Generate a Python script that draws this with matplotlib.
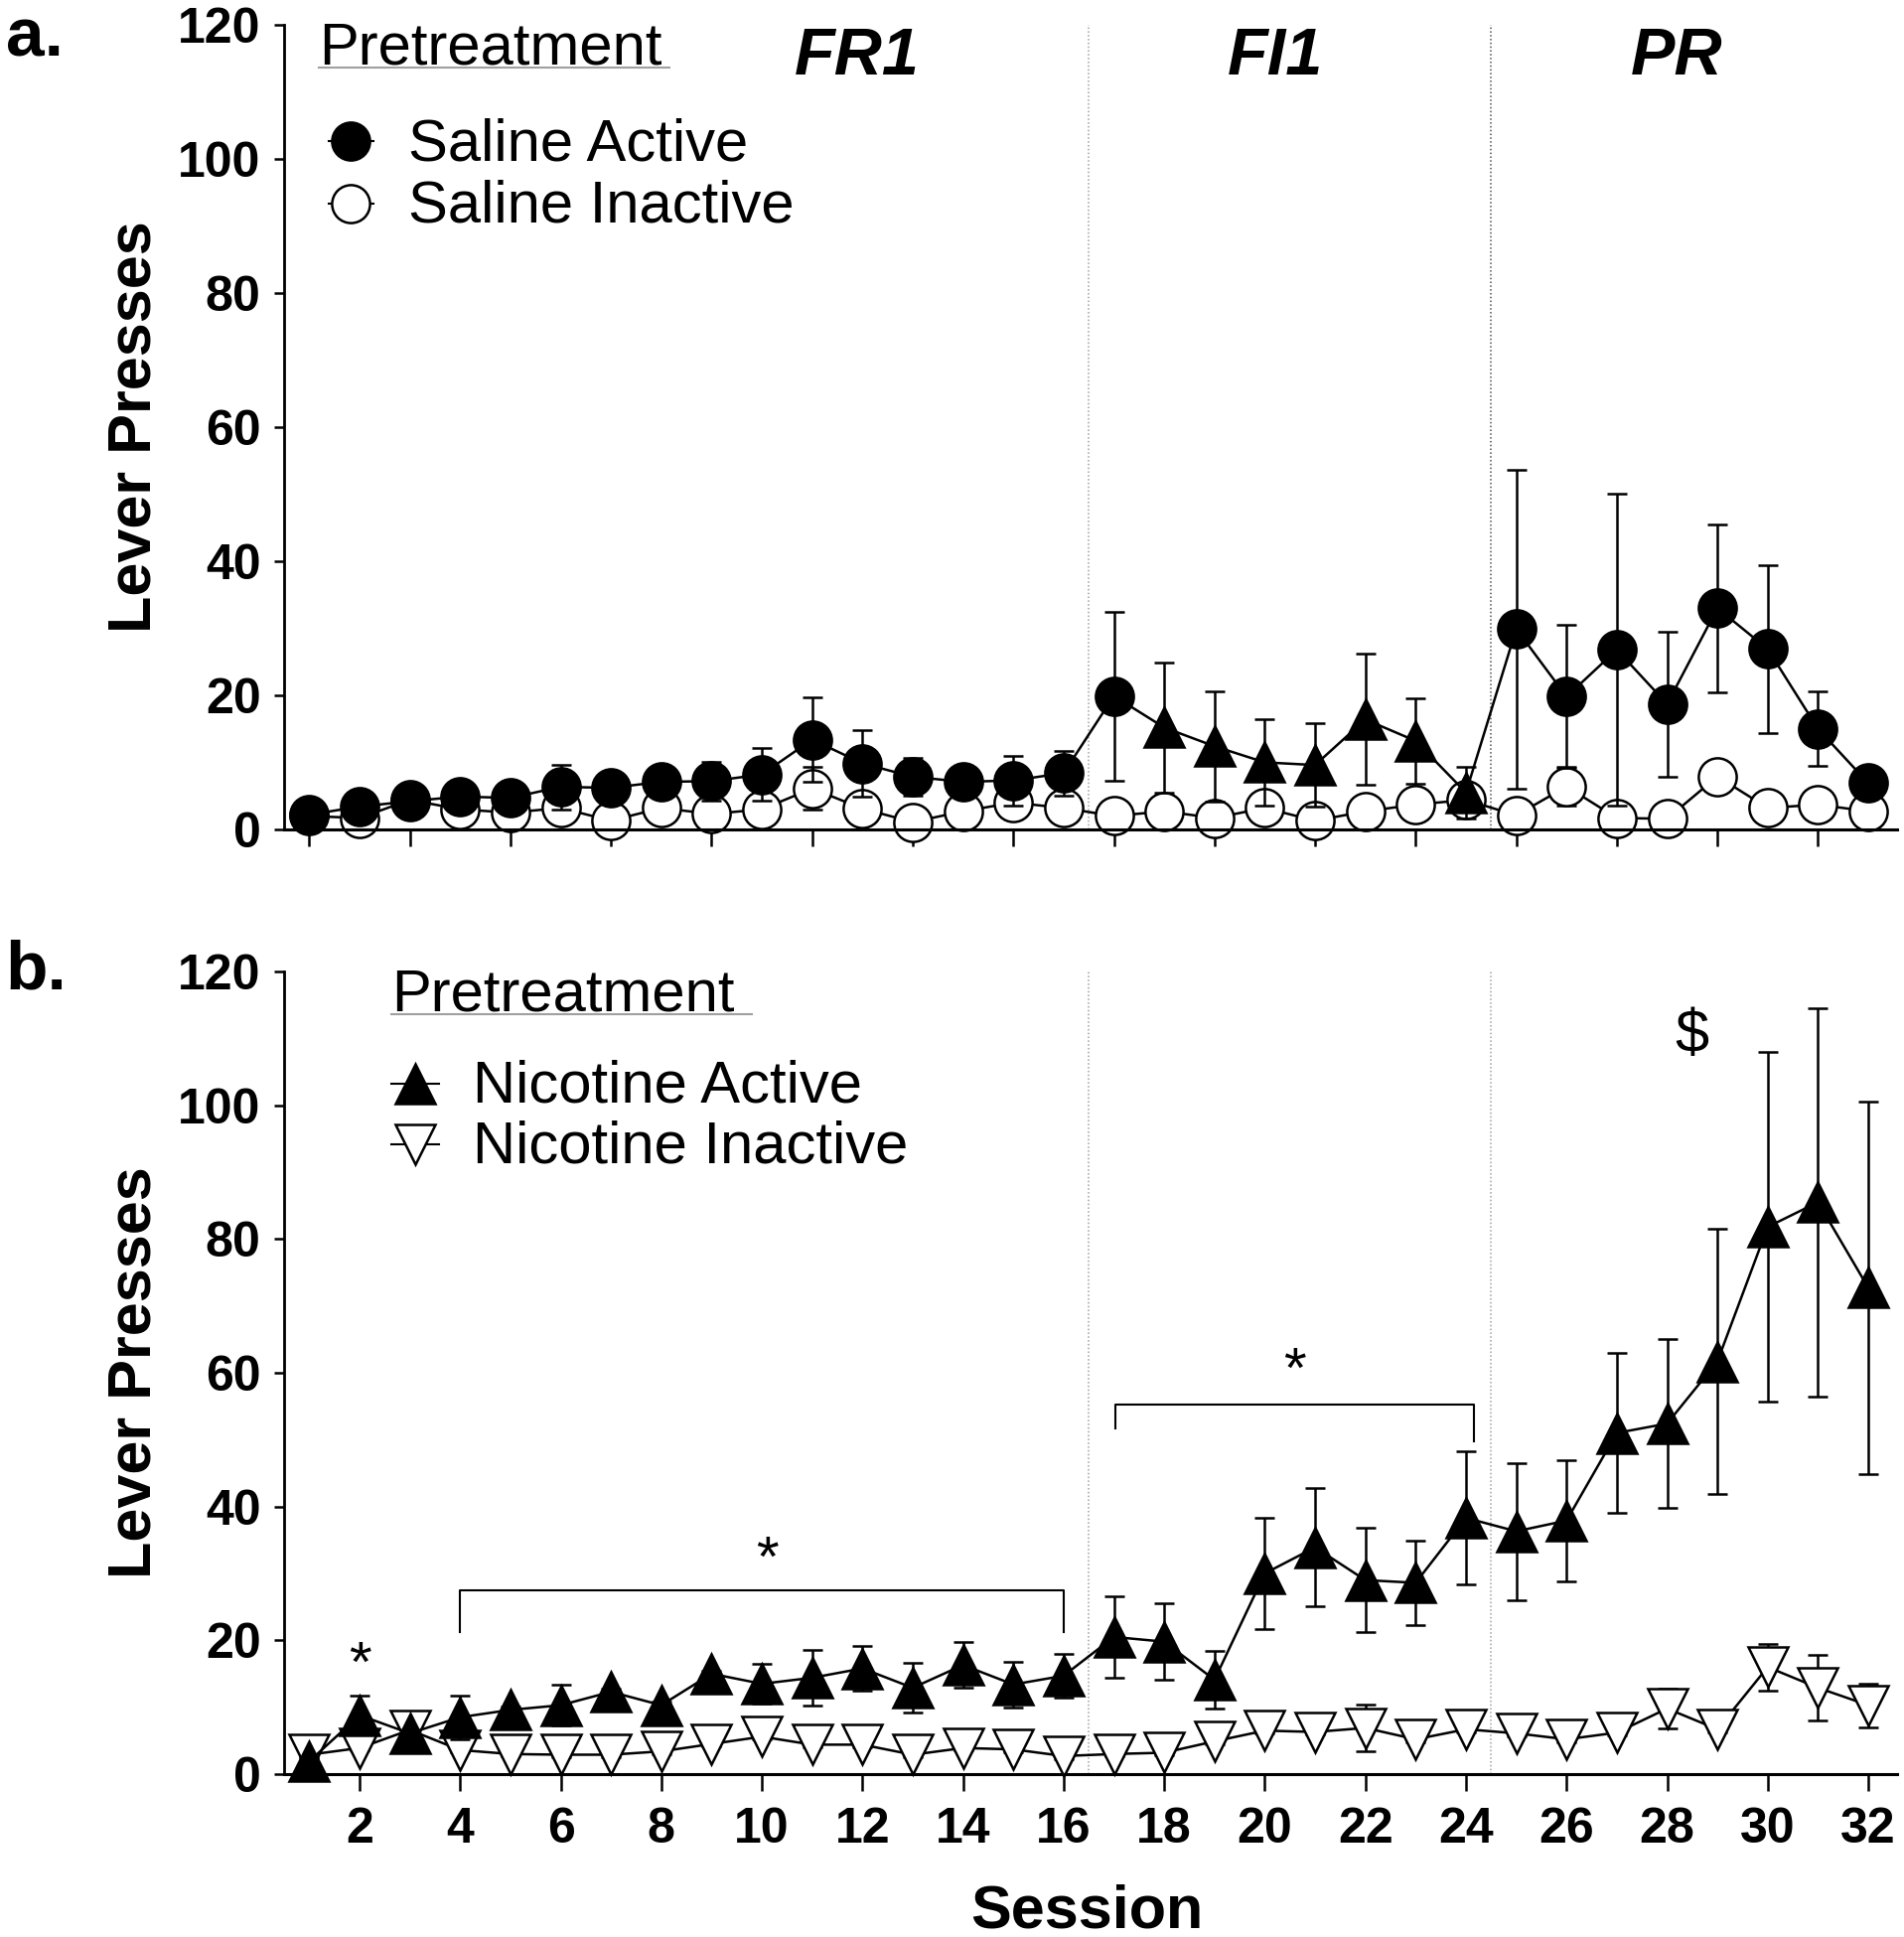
import matplotlib
matplotlib.use("Agg")
import matplotlib.pyplot as plt
import numpy as np
from matplotlib import font_manager

names = {f.name for f in font_manager.fontManager.ttflist}
FAM = ['Liberation Sans', 'DejaVu Sans'] if 'Liberation Sans' in names else ['DejaVu Sans']
plt.rcParams['font.family'] = FAM

# ---------------- data ----------------
sessions = list(range(1, 33))

sal_active = [2.2, 3.4, 4.2, 4.9, 4.7, 6.35, 6.2, 7.1, 7.2, 8.2, 13.4, 9.85, 7.85, 7.1, 7.3, 8.4,
              19.9, 15.2, 12.4, 10.0, 9.6, 16.4, 13.2, 5.5, 29.9, 19.8, 26.8, 18.7, 33.0, 26.9, 15.0, 6.9]
sal_active_sem = [0.5, 0.5, 0.5, 0.5, 0.5, 3.35, 0.5, 0.8, 2.9, 3.9, 6.3, 4.95, 2.75, 0.5, 3.7, 3.3,
                  12.6, 9.75, 8.25, 6.45, 6.2, 9.75, 6.4, 3.8, 23.8, 10.65, 23.2, 10.8, 12.5, 12.55, 5.55, 0.8]
sal_inactive = [2.0, 1.7, 4.4, 3.0, 2.5, 3.2, 1.3, 3.2, 2.3, 3.0, 6.1, 3.1, 1.1, 2.7, 4.0, 3.2,
                2.0, 2.7, 1.7, 3.2, 1.3, 2.7, 3.7, 4.4, 2.1, 6.4, 1.7, 1.6, 7.9, 3.2, 3.7, 2.7]
sal_inactive_sem = [0.4, 0.4, 0.4, 0.4, 0.4, 0.4, 0.4, 0.4, 0.4, 0.4, 3.2, 0.4, 0.4, 0.4, 0.4, 0.4,
                    0.4, 0.4, 0.4, 0.4, 0.4, 0.4, 0.4, 0.4, 0.4, 2.9, 0.4, 0.4, 0.4, 0.4, 0.4, 0.4]

nic_active = [1.9, 8.8, 6.1, 8.5, 9.6, 10.3, 12.3, 10.3, 15.0, 13.5, 14.4, 15.8, 12.9, 16.3, 13.4, 14.7,
              20.5, 19.8, 14.1, 30.0, 33.9, 29.0, 28.6, 38.3, 36.3, 37.9, 51.0, 52.4, 61.7, 81.8, 85.5, 72.7]
nic_active_sem = [0.5, 2.9, 0.5, 3.3, 0.5, 3.0, 0.5, 0.5, 0.5, 3.0, 4.2, 3.3, 3.7, 3.45, 3.4, 3.2,
                  6.05, 5.7, 4.25, 8.3, 8.85, 7.8, 6.35, 9.95, 10.25, 9.1, 12.0, 12.65, 19.85, 26.1, 29.0, 27.85]
nic_inactive = [2.9, 3.9, 6.6, 3.6, 3.0, 2.9, 2.9, 3.4, 4.5, 5.6, 4.4, 4.4, 2.9, 3.9, 3.7, 2.7,
                3.0, 3.2, 4.9, 6.5, 6.3, 6.9, 5.2, 6.7, 6.1, 5.2, 6.2, 9.8, 6.7, 16.0, 12.9, 10.3]
nic_inactive_sem = [0.4, 0.4, 0.4, 0.4, 0.4, 0.4, 0.4, 0.4, 0.4, 0.4, 0.4, 0.4, 0.4, 0.4, 0.4, 0.4,
                    0.4, 0.4, 0.4, 0.4, 0.4, 3.5, 0.4, 0.4, 0.4, 0.4, 0.4, 3.0, 0.4, 3.5, 4.85, 3.25]

# marker used for each saline-active point (as drawn in the original)
sal_active_markers = ['o'] * 17 + ['^'] * 7 + ['o'] * 8

phase_labels = ['FR1', 'FI1', 'PR']
phase_label_x = [11.9, 20.2, 28.2]
phase_bounds = [16.5, 24.5]

yticks = [0, 20, 40, 60, 80, 100, 120]
xticks_a = list(range(1, 32, 2))
xticks_b = list(range(2, 33, 2))

# ---------------- style ----------------
MS_O = 27.5
MS_T = 28.5
LW = 1.8
ELW = 1.8
CAP = 7
TICKFS = 36
LABFS = 44
LEGFS = 43

fig = plt.figure(figsize=(19.17, 19.5), dpi=100)
ax1 = fig.add_axes([0.1492, 0.5718, 0.8471, 0.4154])
ax2 = fig.add_axes([0.1492, 0.0841, 0.8471, 0.4144])


def style_axes(ax, xticks, labels, bound_colors):
    ax.set_xlim(0.5, 32.57)
    ax.set_ylim(0, 120)
    ax.spines['top'].set_visible(False)
    ax.spines['right'].set_visible(False)
    ax.spines['left'].set_linewidth(2.0)
    ax.spines['bottom'].set_linewidth(2.2)
    ax.set_yticks(yticks)
    ax.set_yticklabels([str(v) for v in yticks], fontsize=TICKFS, fontweight='bold')
    ax.tick_params(axis='y', length=7, width=1.8, pad=10)
    ax.set_xticks(xticks)
    if labels:
        ax.set_xticklabels([str(v) for v in xticks], fontsize=TICKFS, fontweight='bold')
    else:
        ax.set_xticklabels([])
    ax.tick_params(axis='x', length=12, width=1.8, pad=12)
    for b, c in zip(phase_bounds, bound_colors):
        ax.axvline(b, color=c, lw=1.1, ls=(0, (1, 1.5)), zorder=0)
    ax.set_ylabel('Lever Presses', fontsize=LABFS, fontweight='bold')
    ax.yaxis.set_label_coords(-0.075, 0.5)


def draw_series(ax, y, e, marker_list, face, z):
    ax.errorbar(sessions, y, yerr=e, fmt='none', ecolor='black', elinewidth=ELW,
                capsize=CAP, capthick=ELW, zorder=z, clip_on=False)
    ax.plot(sessions, y, color='black', lw=LW, zorder=z + 0.1, clip_on=False)
    for m in sorted(set(marker_list)):
        idx = [i for i, mm in enumerate(marker_list) if mm == m]
        ms = MS_O if m == 'o' else MS_T
        ax.plot([sessions[i] for i in idx], [y[i] for i in idx], ls='none', marker=m,
                ms=ms, mfc=face, mec='black', mew=1.8, zorder=z + 0.2, clip_on=False)


# ---------------- panel a ----------------
style_axes(ax1, xticks_a, False, ['#a0a0a0', '#505050'])
draw_series(ax1, sal_inactive, sal_inactive_sem, ['o'] * 32, 'white', 2)
draw_series(ax1, sal_active, sal_active_sem, sal_active_markers, 'black', 4)

for lab, x in zip(phase_labels, phase_label_x):
    ax1.text(x, 112.6, lab, ha='center', va='baseline', fontsize=48,
             fontweight='bold', fontstyle='italic')

ax1.text(1.2, 114.1, 'Pretreatment', fontsize=LEGFS, va='baseline', ha='left')
ax1.plot([1.2, 8.16], [113.6, 113.6], color='#a0a0a0', lw=1.5, clip_on=False)
for yy, m, fc, lab in [(102.6, 'o', 'black', 'Saline Active'),
                       (93.4, 'o', 'white', 'Saline Inactive')]:
    ax1.plot([1.38, 2.28], [yy, yy], color='black', lw=1.5)
    ax1.plot([1.83], [yy], marker=m, ms=MS_O, mfc=fc, mec='black', mew=1.8, ls='none')
    ax1.text(2.96, yy - 2.8, lab, fontsize=LEGFS, va='baseline', ha='left')

# ---------------- panel b ----------------
style_axes(ax2, xticks_b, True, ['#a0a0a0', '#a0a0a0'])
draw_series(ax2, nic_inactive, nic_inactive_sem, ['v'] * 32, 'white', 2)
draw_series(ax2, nic_active, nic_active_sem, ['^'] * 32, 'black', 4)
ax2.set_xlabel('Session', fontsize=LABFS, fontweight='bold')
ax2.xaxis.set_label_coords(0.498, -0.137)

ax2.text(2.64, 114.1, 'Pretreatment', fontsize=LEGFS, va='baseline', ha='left')
ax2.plot([2.64, 9.8], [113.6, 113.6], color='#a0a0a0', lw=1.5, clip_on=False)
for yy, m, fc, lab in [(103.2, '^', 'black', 'Nicotine Active'),
                       (94.2, 'v', 'white', 'Nicotine Inactive')]:
    ax2.plot([2.64, 3.58], [yy, yy], color='black', lw=1.5)
    ax2.plot([3.11], [yy], marker=m, ms=MS_T, mfc=fc, mec='black', mew=1.8, ls='none')
    ax2.text(4.25, yy - 2.8, lab, fontsize=LEGFS, va='baseline', ha='left')

# significance annotations
ax2.text(2, 16, '*', ha='center', va='center', fontsize=42)
ax2.plot([4, 4, 16, 16], [21.2, 27.5, 27.5, 21.2], color='black', lw=1.5)
ax2.text(10.1, 31.8, '*', ha='center', va='center', fontsize=42)
ax2.plot([17.03, 17.03, 24.15, 24.15], [51.7, 55.3, 55.3, 49.8], color='black', lw=1.5)
ax2.text(20.6, 60.1, '*', ha='center', va='center', fontsize=42)
ax2.text(28.5, 110.3, '$', ha='center', va='center', fontsize=44)

# panel letters
fig.text(0.003, 0.971, 'a.', fontsize=50, fontweight='bold', ha='left', va='baseline')
fig.text(0.003, 0.4897, 'b.', fontsize=50, fontweight='bold', ha='left', va='baseline')

fig.savefig('out.png', dpi=100)
